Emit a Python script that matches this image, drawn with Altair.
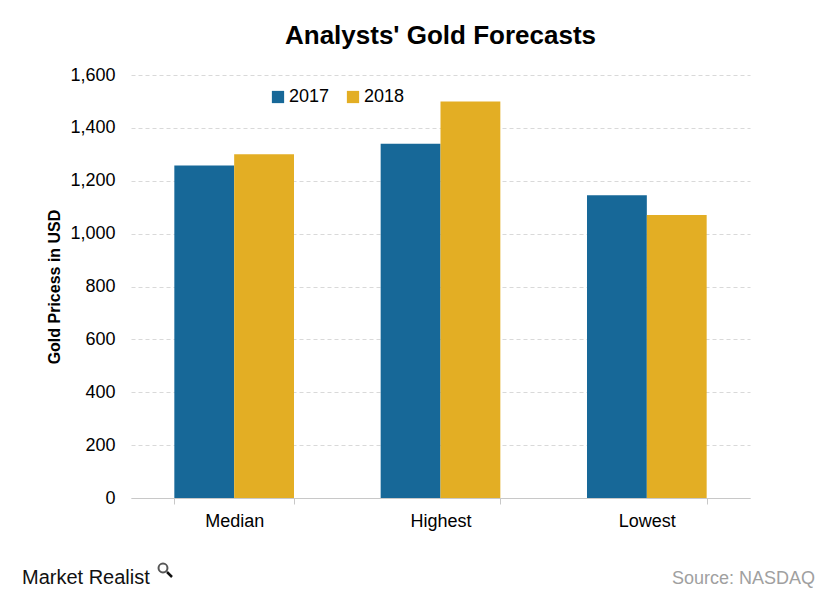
import altair as alt
import pandas as pd

categories = ["Median", "Highest", "Lowest"]
years = ["2017", "2018"]
v2017 = [1258, 1340, 1145]
v2018 = [1300, 1500, 1070]
colors = ["#176898", "#e3ae24"]
y_ticks = [0, 200, 400, 600, 800, 1000, 1200, 1400, 1600]

rows = []
for c, a, b in zip(categories, v2017, v2018):
    rows.append({"category": c, "year": "2017", "value": a})
    rows.append({"category": c, "year": "2018", "value": b})
df = pd.DataFrame(rows)

FONT = "Liberation Sans"

bars = alt.Chart(df).mark_bar().encode(
    x=alt.X("category:N", sort=categories,
            scale=alt.Scale(paddingInner=0.42, paddingOuter=0.21),
            axis=alt.Axis(title=None, labelAngle=0, labelFontSize=18, labelColor="#000",
                          labelFont=FONT, labelPadding=8, tickBand="extent",
                          domainColor="#c8c8c8", tickColor="#c8c8c8", tickSize=6,
                          grid=False)),
    xOffset=alt.XOffset("year:N", sort=years),
    y=alt.Y("value:Q", scale=alt.Scale(domain=[0, 1600], nice=False),
            axis=alt.Axis(title="Gold Pricess in USD", values=y_ticks, format=",.0f",
                          labelFontSize=18, labelColor="#000", labelFont=FONT,
                          labelPadding=16, ticks=False, domain=False,
                          grid=True, gridColor="#d9d9d9", gridDash=[4, 3],
                          titleFont=FONT, titleFontSize=16, titleFontWeight="bold",
                          titleColor="#000", titlePadding=7)),
    color=alt.Color("year:N", scale=alt.Scale(domain=years, range=colors),
                    legend=alt.Legend(title=None, orient="none", legendX=138, legendY=13,
                                      direction="horizontal", symbolType="square",
                                      symbolSize=150, symbolStrokeWidth=0,
                                      labelFontSize=18, labelFont=FONT, labelColor="#000",
                                      labelOffset=2, columnPadding=14)),
)

note = pd.DataFrame({"t": ["x"]})
brand = alt.Chart(note).mark_text(text="Market Realist", align="left", baseline="alphabetic",
                                  font=FONT, fontSize=20, color="#111").encode(
    x=alt.value(-109), y=alt.value(509))
lens = alt.Chart(note).mark_point(shape="circle", size=80, filled=False, strokeWidth=2,
                                  color="#111").encode(
    x=alt.value(32), y=alt.value(493))
handle = alt.Chart(note).mark_rule(strokeWidth=2.5, color="#111").encode(
    x=alt.value(36), x2=alt.value(41), y=alt.value(497), y2=alt.value(502))
source = alt.Chart(note).mark_text(text="Source: NASDAQ", align="right", baseline="alphabetic",
                                   font=FONT, fontSize=18, color="#a0a0a0").encode(
    x=alt.value(684), y=alt.value(509))

chart = alt.layer(bars, brand, lens, handle, source).properties(
    width=619, height=423,
    autosize=alt.AutoSizeParams(type="none"),
    padding={"left": 131, "top": 75, "right": 90, "bottom": 104},
    title=alt.TitleParams("Analysts' Gold Forecasts", font=FONT, fontSize=26,
                          fontWeight="bold", color="#000", anchor="middle", offset=17),
).configure_view(stroke=None)

chart.save("out.html", embed_options={"renderer": "svg", "actions": False})
